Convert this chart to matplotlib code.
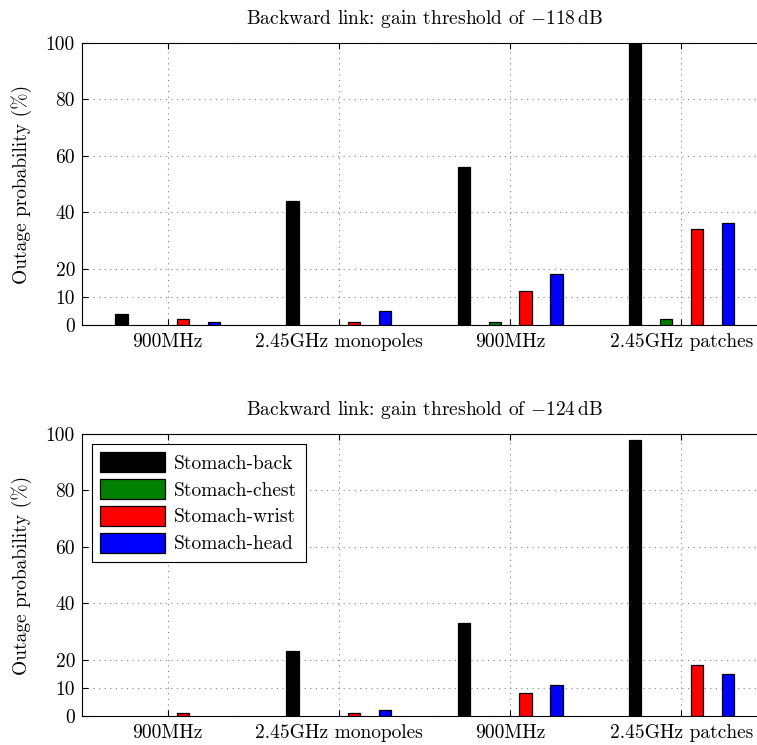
import numpy as np
import matplotlib
matplotlib.use('Agg')
import matplotlib.pyplot as plt

plt.rcParams['font.family'] = ['cmr10', 'DejaVu Serif']
plt.rcParams['mathtext.fontset'] = 'cm'
plt.rcParams['axes.unicode_minus'] = False
plt.rcParams['axes.formatter.use_mathtext'] = True

groups = ['900MHz', '2.45GHz monopoles', '900MHz', '2.45GHz patches']
links = ['Stomach-back', 'Stomach-chest', 'Stomach-wrist', 'Stomach-head']
colors = ['black', 'green', 'red', 'blue']
yticks = [0, 10, 20, 40, 60, 80, 100]

# outage probability (%) per link, one value per antenna group
th118_back = [4, 44, 56, 100]
th118_chest = [0, 0, 1, 2]
th118_wrist = [2, 1, 12, 34]
th118_head = [1, 5, 18, 36]

th124_back = [0, 23, 33, 98]
th124_chest = [0, 0, 0, 0]
th124_wrist = [1, 1, 8, 18]
th124_head = [0, 2, 11, 15]

panels = [
    ('Backward link: gain threshold of $-118\\,$dB', [th118_back, th118_chest, th118_wrist, th118_head]),
    ('Backward link: gain threshold of $-124\\,$dB', [th124_back, th124_chest, th124_wrist, th124_head]),
]

fs = 14
fig = plt.figure(figsize=(7.57, 7.45), dpi=100)
boxes = [[0.1083, 0.5638, 0.905, 0.3785], [0.1083, 0.0390, 0.905, 0.3785]]
x = np.arange(1, len(groups) + 1)
offsets = [-0.27, -0.09, 0.09, 0.27]
w = 0.072

for k, (title, series) in enumerate(panels):
    ax = fig.add_axes(boxes[k])
    for i in range(4):
        # zero-valued bars show nothing in the original
        lw = [0.9 if v > 0 else 0 for v in series[i]]
        ax.bar(x + offsets[i], series[i], width=w, color=colors[i],
               edgecolor='black', linewidth=lw, label=links[i], zorder=3)
    ax.set_xlim(0.5, 4.5)
    ax.set_ylim(0, 100)
    ax.set_xticks(x)
    ax.set_xticklabels(groups, fontsize=fs)
    ax.set_yticks(yticks)
    ax.set_yticklabels([str(t) for t in yticks], fontsize=fs)
    ax.tick_params(direction='in', length=4, top=True, right=True)
    ax.tick_params(axis='x', pad=6)
    ax.tick_params(axis='y', pad=5)
    ax.grid(True, linestyle=(0, (1, 4)), color='gray', linewidth=0.8)
    ax.set_ylabel('Outage probability (%)', fontsize=fs, labelpad=10)
    ax.set_title(title, fontsize=fs, pad=14)
    if k == 1:
        h, l = ax.get_legend_handles_labels()
        leg = ax.legend(h, l, loc='upper left', fontsize=fs, fancybox=False,
                        edgecolor='black', framealpha=1, handlelength=3.3,
                        handleheight=1.2, borderaxespad=0.5, labelspacing=0.32,
                        handletextpad=0.5, borderpad=0.45)
        leg.get_frame().set_linewidth(0.8)
        for p in leg.get_patches():
            p.set_linewidth(0.9)

fig.savefig('out.png', dpi=100)
